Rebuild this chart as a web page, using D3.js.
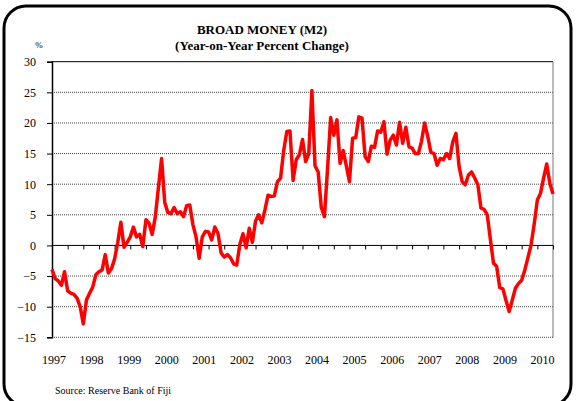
<!DOCTYPE html>
<html>
<head>
<meta charset="utf-8">
<script src="https://cdn.jsdelivr.net/npm/d3@7"></script>
<style>
  body { margin: 0; background: #fff; }
  svg text { font-family: "Liberation Serif", "Times New Roman", serif; fill: #000; }
</style>
</head>
<body>
<div id="chart"></div>
<script>
// monthly year-on-year % change, Jan 1997 .. May 2010
var m2Growth = [
  -3.9, -5.4, -5.8, -6.5, -4.3, -7.4, -7.8, -8.0, -8.6, -10.0, -12.8, -8.9,
  -7.8, -6.8, -4.8, -4.3, -4.0, -1.5, -4.5, -3.8, -2.2, 0.5, 3.8, -0.3,
  0.5, 1.4, 3.0, 1.4, 1.8, -0.2, 4.2, 3.6, 1.8, 4.7, 9.5, 14.2,
  7.0, 5.4, 5.2, 6.2, 5.2, 5.5, 4.7, 6.5, 6.6, 3.4, 1.4, -2.1,
  1.4, 2.3, 2.2, 0.9, 3.0, 2.0, -1.2, -1.9, -1.5, -2.0, -3.0, -3.2,
  0.2, 1.9, -0.4, 2.8, 0.5, 4.0, 5.0, 3.7, 5.8, 8.2, 8.0, 8.1,
  10.4, 11.0, 15.5, 18.6, 18.7, 10.6, 14.0, 14.8, 17.3, 13.7, 15.0, 25.3,
  13.0, 12.0, 6.2, 4.7, 12.5, 20.9, 18.0, 20.5, 13.4, 15.5, 13.0, 10.4,
  17.5, 17.6, 21.0, 20.8, 14.5, 13.7, 16.2, 16.0, 18.7, 18.5, 20.2, 14.9,
  17.2, 18.0, 16.4, 20.1, 16.7, 19.3, 16.1, 15.9, 15.0, 15.0, 17.0, 20.0,
  17.8, 15.2, 15.0, 13.1, 14.2, 14.0, 15.0, 14.2, 16.9, 18.3, 12.9, 10.4,
  9.9, 11.5, 12.0, 11.0, 9.9, 6.1, 5.9, 5.0, 1.0, -2.9, -3.4, -6.9,
  -7.1, -9.0, -10.8, -8.9, -7.0, -6.2, -5.7, -4.0, -2.0, 0.1, 3.5, 7.4,
  8.5, 11.0, 13.3, 10.1, 8.4
];
var yearLabels = ["1997","1998","1999","2000","2001","2002","2003","2004","2005","2006","2007","2008","2009","2010"];
var yTicks = [30, 25, 20, 15, 10, 5, 0, -5, -10, -15];

var width = 576, height = 401;
var plotLeft = 52, plotRight = 553, plotTop = 61.7, plotBottom = 337.3;

var svg = d3.select("#chart").append("svg")
  .attr("width", width)
  .attr("height", height);

// rounded outer frame
svg.append("rect")
  .attr("x", 4).attr("y", 6)
  .attr("width", 567).attr("height", 400)
  .attr("rx", 22).attr("ry", 22)
  .attr("fill", "none")
  .attr("stroke", "#000")
  .attr("stroke-width", 3);

var x = d3.scaleLinear().domain([0, m2Growth.length - 1]).range([plotLeft, plotRight]);
var y = d3.scaleLinear().domain([-15, 30]).range([plotBottom, plotTop]);

// title
svg.append("text").attr("x", 262).attr("y", 34)
  .attr("text-anchor", "middle").style("font-weight", "bold").style("font-size", "13px")
  .text("BROAD MONEY (M2)");
svg.append("text").attr("x", 262).attr("y", 50)
  .attr("text-anchor", "middle").style("font-weight", "bold").style("font-size", "13px")
  .text("(Year-on-Year Percent Change)");
svg.append("text").attr("x", 39).attr("y", 48)
  .attr("text-anchor", "middle").style("font-size", "9px").text("%");

// gridlines
svg.append("g").selectAll("line")
  .data(yTicks.filter(function(d){ return d != 0 && d != 30 && d != -15; }))
  .enter().append("line")
  .attr("x1", plotLeft).attr("x2", plotRight)
  .attr("y1", function(d){ return y(d); }).attr("y2", function(d){ return y(d); })
  .attr("stroke", "#444").attr("stroke-width", 1)
  .attr("stroke-dasharray", "1,1");

// plot border
svg.append("line").attr("x1", plotLeft).attr("x2", plotRight).attr("y1", plotTop).attr("y2", plotTop)
  .attr("stroke", "#000");
svg.append("line").attr("x1", plotRight).attr("x2", plotRight).attr("y1", plotTop).attr("y2", plotBottom)
  .attr("stroke", "#777");
svg.append("line").attr("x1", plotLeft).attr("x2", plotRight).attr("y1", plotBottom).attr("y2", plotBottom)
  .attr("stroke", "#444").attr("stroke-dasharray", "1,1");

// y axis
var yAxis = d3.axisLeft(y).tickValues(yTicks).tickSize(5).tickPadding(11);
var gy = svg.append("g").attr("transform", "translate(" + plotLeft + ",0)").call(yAxis);
gy.select(".domain").attr("stroke-width", 1.5);
gy.selectAll("text").style("font-size", "12px").style("font-family", "Liberation Serif, serif");

// zero line with ticks every 5 months
var xAxis = d3.axisBottom(x).tickValues(d3.range(0, m2Growth.length, 5)).tickSize(4).tickFormat("");
var gx = svg.append("g").attr("transform", "translate(0," + y(0) + ")").call(xAxis);
gx.select(".domain").attr("d", "M" + plotLeft + ",0H" + plotRight);

// year labels
svg.append("g").selectAll("text")
  .data(yearLabels)
  .enter().append("text")
  .attr("x", function(d, i){ return x(i * 12) + 2; })
  .attr("y", 364)
  .attr("text-anchor", "middle")
  .style("font-size", "12px")
  .text(function(d){ return d; });

// series line
var line = d3.line()
  .x(function(d, i){ return x(i); })
  .y(function(d){ return y(d); });

svg.append("path")
  .datum(m2Growth)
  .attr("d", line)
  .attr("fill", "none")
  .attr("stroke", "#ff0000")
  .attr("stroke-width", 3.5)
  .attr("stroke-linejoin", "round");

svg.append("text").attr("x", 55).attr("y", 394)
  .style("font-size", "10px")
  .text("Source: Reserve Bank of Fiji");
</script>
</body>
</html>
